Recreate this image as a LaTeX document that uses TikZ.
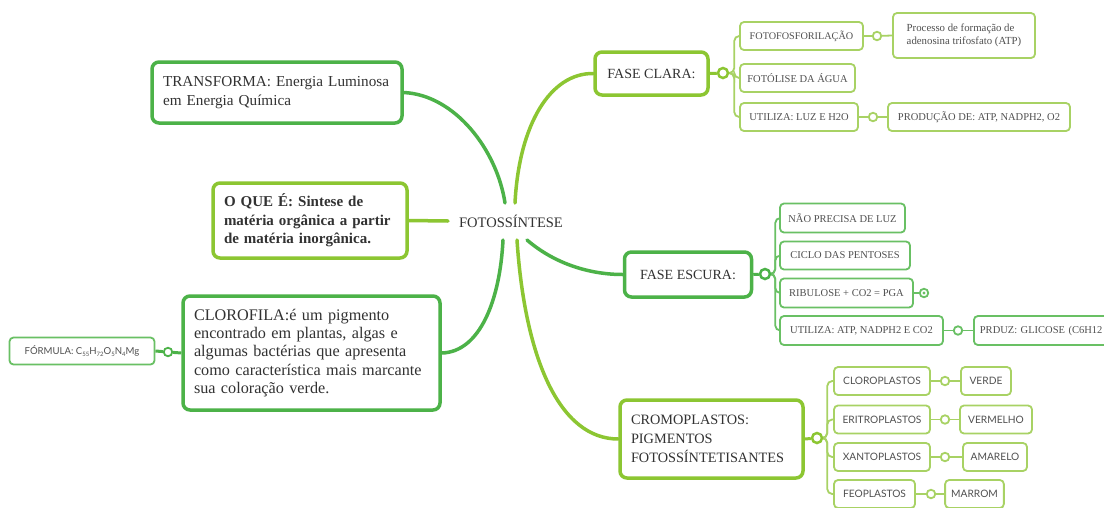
\documentclass[tikz,border=0pt]{standalone}
\usepackage{fontspec}
\setmainfont{Liberation Serif}
\newfontfamily\lato{Lato}
\definecolor{dk}{RGB}{76,178,72}
\definecolor{lt}{RGB}{140,198,50}
\definecolor{dkk}{RGB}{105,192,100}
\definecolor{ltk}{RGB}{168,210,100}
\definecolor{txt}{RGB}{50,50,50}
\definecolor{ktxt}{RGB}{80,80,80}
\newcommand\chemsub[1]{\raisebox{-0.35ex}{\fontsize{6}{6}\selectfont #1}}
\pgfdeclarelayer{bg}
\pgfsetlayers{bg,main}
\begin{document}
\begin{tikzpicture}[x=1pt,y=-1pt,
  big/.style={draw, rounded corners=7pt, line width=3.5pt, fill=white, text=txt, inner xsep=11pt, inner ysep=4pt, align=left, font=\fontsize{14}{19}\selectfont},
  kid/.style={draw, rounded corners=4pt, line width=1.8pt, fill=white, text=ktxt, inner xsep=6pt, minimum height=28pt, font=\fontsize{10.5}{12}\selectfont},
  skid/.style={kid, font=\lato\fontsize{10.2}{12}\selectfont},
  hub/.style={circle, draw, fill=white, line width=2.5pt, minimum size=10pt, inner sep=0pt},
  dotc/.style={circle, draw, fill=white, line width=1.8pt, minimum size=8.5pt, inner sep=0pt},
  br/.style={line width=3.5pt, line cap=round},
  tw/.style={line width=1.8pt, rounded corners=5pt},
  hb/.style={line width=3pt},
]
\useasboundingbox (0,0) rectangle (1104,507);
\begin{pgfonlayer}{bg}
\fill[white] (0,0) rectangle (1104,507);
\end{pgfonlayer}
\clip (0,0) rectangle (1104,507);

% centre
\node[text=txt, font=\fontsize{14.5}{16}\selectfont] (center) at (511,221) {FOTOSSÍNTESE};
\coordinate (hT1) at (505,203);
\coordinate (hT2) at (515,203);
\coordinate (hB1) at (503,240);
\coordinate (hB2) at (517,240);
\coordinate (hB3) at (527,240);
\coordinate (hL) at (448,221);

% left side
\node[big, draw=dk, text width=228pt, minimum height=61pt, font=\fontsize{15.2}{19}\selectfont] (transf) at (277,92.5) {TRANSFORMA: Energia Luminosa\\em Energia Química};
\node[big, draw=lt, text width=172pt, minimum height=75pt, font=\bfseries\fontsize{15}{18.5}\selectfont] (oque) at (310,220.5) {O QUE É: Sintese de\\matéria orgânica a partir\\de matéria inorgânica.};
\node[big, draw=dk, text width=235pt, minimum height=114pt, font=\fontsize{16.2}{18.3}\selectfont] (cloro) at (311.5,353) {CLOROFILA:é um pigmento\\encontrado em plantas, algas e\\algumas bactérias que apresenta\\como característica mais marcante\\sua coloração verde.};
\node[kid, draw=dkk, font=\lato\fontsize{9.6}{10}\selectfont, minimum width=145pt, minimum height=27pt] (form) at (82,351) {FÓRMULA: C\chemsub{55}H\chemsub{72}O\chemsub{5}N\chemsub{4}Mg};
\node[dotc, draw=dk] (formC) at (168,352) {};

% fase clara
\node[big, draw=lt, minimum width=113pt, minimum height=43pt] (fc) at (651.5,73.5) {FASE CLARA:};
\node[hub, draw=lt] (fcC) at (723,73) {};
\node[kid, draw=ltk, minimum width=123pt, font=\fontsize{10.2}{12}\selectfont] (ff) at (801.5,36) {FOTOFOSFORILAÇÃO};
\node[dotc, draw=ltk] (ffC) at (877,36) {};
\node[kid, draw=ltk, minimum width=142pt, minimum height=45pt, align=left, font=\fontsize{10.8}{13.5}\selectfont] (proc) at (964,35.5) {Processo de formação de\\adenosina trifosfato (ATP)};
\node[kid, draw=ltk, minimum width=115pt] (fl) at (797.5,78) {FOTÓLISE DA ÁGUA};
\node[kid, draw=ltk, minimum width=118pt] (u1) at (799,117) {UTILIZA: LUZ E H2O};
\node[dotc, draw=ltk] (u1C) at (873,117) {};
\node[kid, draw=ltk, minimum width=182pt] (prod) at (979,117) {PRODUÇÃO DE: ATP, NADPH2, O2};

% fase escura
\node[big, draw=dk, minimum width=127pt, minimum height=45pt] (fe) at (688,274.5) {FASE ESCURA:};
\node[hub, draw=dk] (feC) at (765,274) {};
\node[kid, draw=dkk, minimum width=125pt, minimum height=29pt] (nao) at (842.5,218) {NÃO PRECISA DE LUZ};
\node[kid, draw=dkk, minimum width=130pt] (ciclo) at (845,255.5) {CICLO DAS PENTOSES};
\node[kid, draw=dkk, minimum width=133pt, minimum height=29pt] (rib) at (846.5,293) {RIBULOSE + CO2 = PGA};
\node[dotc, draw=dkk] (ribC) at (924,293) {};
\fill[dkk] (ribC.center) circle (1.7pt);
\node[kid, draw=dkk, minimum width=163pt, minimum height=29pt] (u2) at (861.5,330.5) {UTILIZA: ATP, NADPH2 E CO2};
\node[dotc, draw=dkk] (u2C) at (958,330.5) {};
\node[kid, draw=dkk, minimum height=29pt, text width=148pt, align=left, anchor=west] (prd) at (973,330.5) {PRDUZ: GLICOSE (C6H12};

% cromoplastos
\node[big, draw=lt, text width=161pt, minimum height=78pt, font=\fontsize{14.3}{19}\selectfont] (cr) at (711.5,439) {CROMOPLASTOS:\\PIGMENTOS\\FOTOSSÍNTETISANTES};
\node[hub, draw=lt] (crC) at (817,438) {};
\node[skid, draw=ltk, minimum width=96pt] (clp) at (882,381) {CLOROPLASTOS};
\node[dotc, draw=ltk] (clpC) at (945,381) {};
\node[skid, draw=ltk, minimum width=50pt] (verde) at (986,381) {VERDE};
\node[skid, draw=ltk, minimum width=96pt] (eri) at (882,419.5) {ERITROPLASTOS};
\node[dotc, draw=ltk] (eriC) at (945,419.5) {};
\node[skid, draw=ltk, minimum width=72pt] (verm) at (996,419.5) {VERMELHO};
\node[skid, draw=ltk, minimum width=96pt] (xan) at (882,457) {XANTOPLASTOS};
\node[dotc, draw=ltk] (xanC) at (945,457) {};
\node[skid, draw=ltk, minimum width=64pt] (amar) at (995,457) {AMARELO};
\node[skid, draw=ltk, minimum width=81pt] (feo) at (874.5,494) {FEOPLASTOS};
\node[dotc, draw=ltk] (feoC) at (931,494) {};
\node[skid, draw=ltk, minimum width=55pt] (marr) at (974.5,494) {MARROM};

\begin{pgfonlayer}{bg}
% main branches
\draw[br, dk] (transf.east) .. controls (455,95) and (497,150) .. (hT1);
\draw[br, lt] (hT2) .. controls (519,125) and (550,73) .. (fc.west);
\draw[br, lt] (oque.east) -- (hL);
\draw[br, dk] (hB1) .. controls (500,300) and (480,352) .. (cloro.east);
\draw[br, dk] (hB3) .. controls (555,264) and (590,274.5) .. (fe.west);
\draw[br, lt] (hB2) .. controls (525,360) and (560,439) .. (cr.west);
% formula
\draw[hb, dk] (cloro.west) -- (formC) -- (form.east);
% fase clara
\draw[hb, lt] (fc.east) -- (fcC);
\draw[tw, ltk] (fcC.east) -- ++(5,0) |- (ff.west);
\draw[tw, ltk] (fcC.east) -- ++(5,0) |- (fl.west);
\draw[tw, ltk] (fcC.east) -- ++(5,0) |- (u1.west);
\draw[tw, ltk] (ff.east) -- (ffC) -- (proc.west);
\draw[tw, ltk] (u1.east) -- (u1C) -- (prod.west);
% fase escura
\draw[hb, dk] (fe.east) -- (feC);
\draw[tw, dkk] (feC.east) -- ++(4,0) |- (nao.west);
\draw[tw, dkk] (feC.east) -- ++(4,0) |- (ciclo.west);
\draw[tw, dkk] (feC.east) -- ++(4,0) |- (rib.west);
\draw[tw, dkk] (feC.east) -- ++(4,0) |- (u2.west);
\draw[tw, dkk] (rib.east) -- (ribC);
\draw[tw, dkk] (u2.east) -- (u2C) -- (prd.west);
% cromoplastos
\draw[hb, lt] (cr.east) -- (crC);
\draw[tw, ltk] (crC.east) -- ++(4,0) |- (clp.west);
\draw[tw, ltk] (crC.east) -- ++(4,0) |- (eri.west);
\draw[tw, ltk] (crC.east) -- ++(4,0) |- (xan.west);
\draw[tw, ltk] (crC.east) -- ++(4,0) |- (feo.west);
\draw[tw, ltk] (clp.east) -- (clpC) -- (verde.west);
\draw[tw, ltk] (eri.east) -- (eriC) -- (verm.west);
\draw[tw, ltk] (xan.east) -- (xanC) -- (amar.west);
\draw[tw, ltk] (feo.east) -- (feoC) -- (marr.west);
\end{pgfonlayer}
\end{tikzpicture}
\end{document}
